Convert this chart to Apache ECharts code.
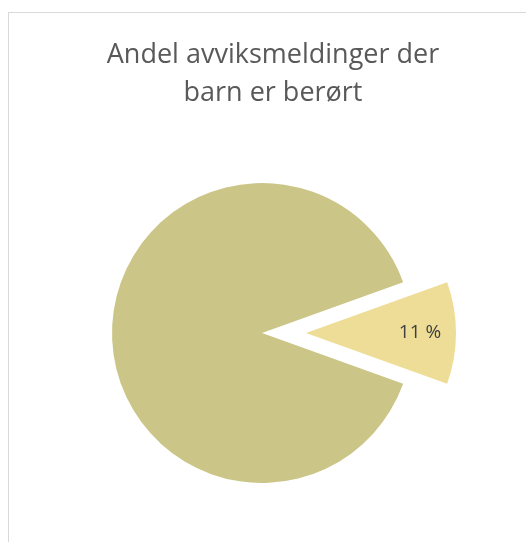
<!DOCTYPE html>
<html>
<head>
<meta charset="utf-8">
<script src="https://cdn.jsdelivr.net/npm/echarts@6/dist/echarts.min.js"></script>
<style>
  html, body { margin: 0; padding: 0; background: #fff; overflow: hidden; }
  #frame { position: absolute; left: 8px; top: 12px; width: 700px; height: 700px; border: 1.5px solid #d9d9d9; box-sizing: border-box; }
  #chart { position: absolute; left: 0; top: 0; width: 526px; height: 542px; }
</style>
</head>
<body>
<div id="frame"></div>
<div id="chart"></div>
<script>
// andel avviksmeldinger
const categories = ['Barn berørt', 'Ikke barn berørt']
const values = [11, 89]
const colors = ['#eedd96', '#cbc687']

const chart = echarts.init(document.getElementById('chart'))
const optionData = {
  title: {
    text: 'Andel avviksmeldinger der\nbarn er berørt',
    left: 268,
    top: 31,
    textAlign: 'center',
    textStyle: {
      fontFamily: 'Open Sans',
      fontSize: 27,
      fontWeight: 'normal',
      color: '#595959',
      lineHeight: 38
    }
  },
  series: [{
    type: 'pie',
    center: [262, 333],
    radius: 150,
    startAngle: 19.8,
    clockwise: true,
    selectedMode: 'single',
    selectedOffset: 44,
    animation: false,
    silent: true,
    label: { show: false },
    labelLine: { show: false },
    labelLayout: function (params) {
      return params.dataIndex === 0 ? { dx: 36 } : {}
    },
    data: categories.map(function (name, i) {
      const item = { name: name, value: values[i], itemStyle: { color: colors[i] } }
      if (i === 0) {
        item.selected = true
        item.label = {
          show: true,
          position: 'inside',
          formatter: function (p) { return Math.round(p.percent) + ' %' },
          fontFamily: 'Open Sans',
          fontSize: 19,
          color: '#404040'
        }
      }
      return item
    })
  }]
}
chart.setOption(optionData)
</script>
</body>
</html>
